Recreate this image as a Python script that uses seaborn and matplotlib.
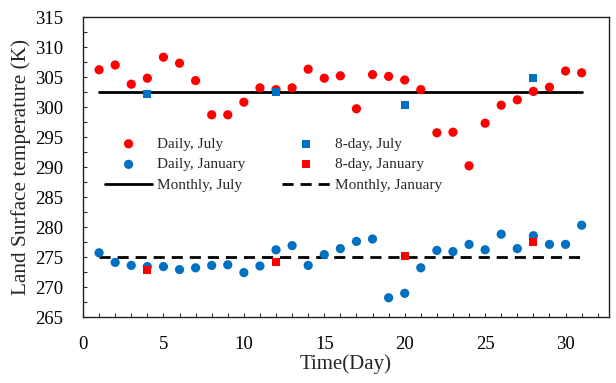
import matplotlib
matplotlib.use("Agg")
import matplotlib.pyplot as plt
import seaborn as sns
import pandas as pd
from matplotlib.ticker import MultipleLocator

days = list(range(1, 32))
daily_july = [306.2, 307.0, 303.8, 304.8, 308.3, 307.3, 304.4, 298.7, 298.7, 300.8,
              303.2, 302.9, 303.2, 306.3, 304.8, 305.2, 299.7, 305.4, 305.1, 304.5,
              302.9, 295.7, 295.8, 290.2, 297.3, 300.3, 301.2, 302.6, 303.3, 306.0, 305.7]
daily_jan = [275.7, 274.1, 273.6, 273.4, 273.4, 272.9, 273.2, 273.6, 273.7, 272.4,
             273.5, 276.2, 276.9, 273.6, 275.4, 276.4, 277.6, 278.0, 268.2, 268.95,
             273.2, 276.1, 275.9, 277.1, 276.2, 278.8, 276.4, 278.55, 277.1, 277.1, 280.3]
eight_days = [4, 12, 20, 28]
eight_july = [302.2, 302.5, 300.3, 304.8]
eight_jan = [272.9, 274.2, 275.2, 277.55]
monthly_days = [1, 31]
monthly_july = 302.5
monthly_jan = 275.0

RED = "#FF0000"
BLUE = "#0070C0"

sns.set_theme(style="white")
plt.rcParams['font.family'] = ['Liberation Serif', 'DejaVu Serif']

fig = plt.figure(figsize=(6.16, 3.83), dpi=100)
ax = fig.add_axes([83/616, 1 - 317/383, (609-83)/616, (317-17)/383])

df_dj = pd.DataFrame({"day": days, "lst": daily_july})
df_dn = pd.DataFrame({"day": days, "lst": daily_jan})
df_ej = pd.DataFrame({"day": eight_days, "lst": eight_july})
df_en = pd.DataFrame({"day": eight_days, "lst": eight_jan})
df_mj = pd.DataFrame({"day": monthly_days, "lst": [monthly_july] * len(monthly_days)})
df_mn = pd.DataFrame({"day": monthly_days, "lst": [monthly_jan] * len(monthly_days)})

sns.lineplot(data=df_mj, x="day", y="lst", ax=ax, color="black", lw=2.0,
             label="Monthly, July", zorder=2)
sns.lineplot(data=df_mn, x="day", y="lst", ax=ax, color="black", lw=2.0,
             linestyle=(0, (4, 2.5)), label="Monthly, January", zorder=2)
sns.scatterplot(data=df_dj, x="day", y="lst", ax=ax, color=RED, s=44, marker="o",
                edgecolor="none", label="Daily, July", zorder=3)
sns.scatterplot(data=df_dn, x="day", y="lst", ax=ax, color=BLUE, s=44, marker="o",
                edgecolor="none", label="Daily, January", zorder=3)
sns.scatterplot(data=df_ej, x="day", y="lst", ax=ax, color=BLUE, s=34, marker="s",
                edgecolor="none", label="8-day, July", zorder=4)
sns.scatterplot(data=df_en, x="day", y="lst", ax=ax, color=RED, s=34, marker="s",
                edgecolor="none", label="8-day, January", zorder=4)

ax.set_xlim(0, 32.7)
ax.set_ylim(265, 315)
ax.xaxis.set_major_locator(MultipleLocator(5))
ax.xaxis.set_minor_locator(MultipleLocator(1))
ax.yaxis.set_major_locator(MultipleLocator(5))
ax.yaxis.set_minor_locator(MultipleLocator(2.5))
ax.tick_params(axis="both", which="both", direction="in", length=3, width=0.8,
               colors="#333333", labelcolor="black", labelsize=13.5)
ax.tick_params(axis="x", which="both", bottom=True, top=False, pad=14)
ax.tick_params(axis="y", which="both", left=True, right=False, pad=14)
for sp in ax.spines.values():
    sp.set_color("#222222")
    sp.set_linewidth(1.0)

ax.set_xlabel("Time(Day)", fontsize=15, labelpad=0.5)
ax.set_ylabel("Land Surface temperature (K)", fontsize=15.3, labelpad=3)

handles, labels = ax.get_legend_handles_labels()
hmap = dict(zip(labels, handles))
order = ["Daily, July", "Daily, January", "Monthly, July",
         "8-day, July", "8-day, January", "Monthly, January"]
ax.legend([hmap[k] for k in order], order, ncol=2, frameon=False,
          loc="upper left", bbox_to_anchor=(0.03, 0.62), fontsize=11,
          handlelength=3.1, handletextpad=0.33, columnspacing=2.4,
          labelspacing=0.45, borderaxespad=0)

fig.savefig("out.png", dpi=100)
